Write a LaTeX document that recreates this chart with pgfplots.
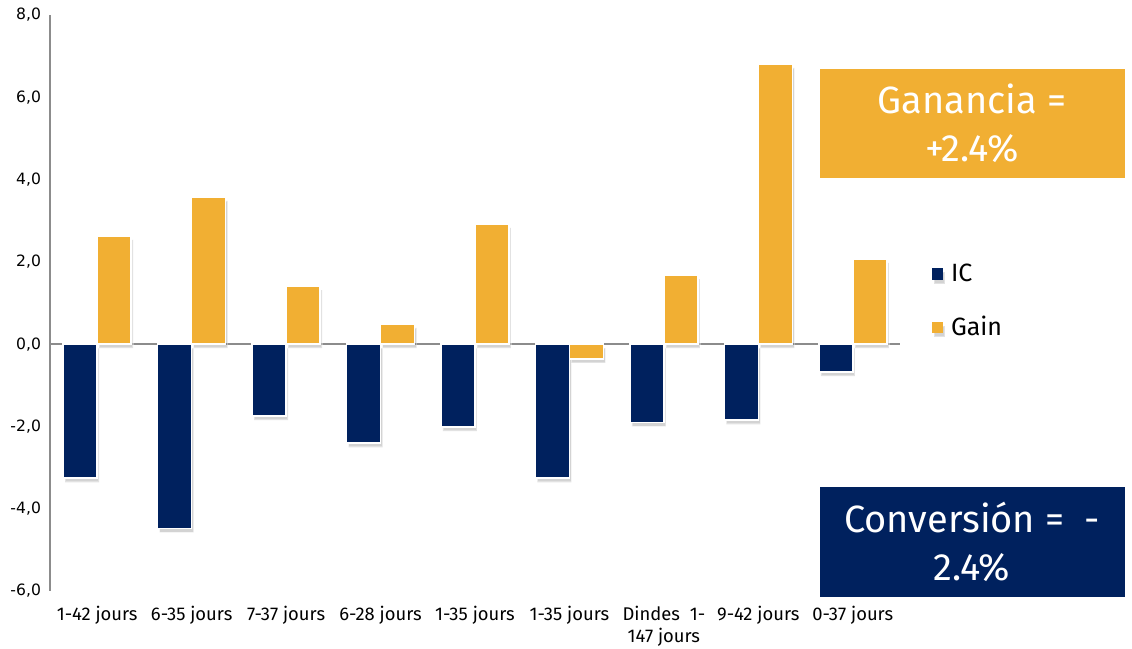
\documentclass[border=0pt]{standalone}
\usepackage{fontspec}
\setmainfont{Fira Sans}
\newfontfamily\dejavu{DejaVu Sans}
\usepackage{pgfplots}
\pgfplotsset{compat=1.18}
\usetikzlibrary{shadows}
\definecolor{navy}{HTML}{00215E}
\definecolor{gold}{HTML}{F1AF33}
\begin{document}
\begin{tikzpicture}
\useasboundingbox (-25pt,-29pt) rectangle (541pt,295.5pt);
\begin{axis}[
  at={(0,0)}, anchor=south west,
  scale only axis, width=425pt, height=288pt,
  ybar=0pt, bar width=17pt,
  xmin=-0.5, xmax=8.5, ymin=-6, ymax=8,
  xtick={0,...,8},
  xticklabels={1-42 jours,6-35 jours,7-37 jours,6-28 jours,1-35 jours,1-35 jours,{Dindes~~1-\\147 jours},9-42 jours,0-37 jours},
  xticklabel style={font=\fontsize{9.2}{11}\selectfont, align=center, yshift=-4pt},
  ytick={-6,-4,...,8},
  yticklabel style={font=\dejavu\fontsize{7.8}{9}\selectfont, xshift=-1pt, /pgf/number format/.cd, fixed, fixed zerofill, precision=1, use comma, assume math mode=true},
  axis x line*=bottom,
  x axis line style={draw=none},
  axis y line*=left,
  y axis line style={draw=gray!90, line width=1pt, -},
  major tick length=0pt,
  clip=false,
  legend style={at={(1.037,0.503)}, anchor=west, draw=none, fill=none, font=\fontsize{12.5}{14}\selectfont, row sep=12pt, inner sep=0pt, nodes={inner xsep=4pt}},
  legend cell align=left,
  legend image code/.code={\fill[#1, draw=none] (0pt,-2.8pt) rectangle (5.6pt,2.8pt);},
]
\draw[gray!90, line width=1pt] (axis cs:-0.5,0) -- (axis cs:8.5,0);
\addplot[fill=navy, draw=white, line width=0.8pt, drop shadow={opacity=0.35, shadow xshift=1pt, shadow yshift=-2pt}] coordinates {
 (0,-3.26) (1,-4.48) (2,-1.75) (3,-2.41) (4,-2.02) (5,-3.26) (6,-1.90) (7,-1.85) (8,-0.68)};
\addplot[fill=gold, draw=white, line width=0.8pt, drop shadow={opacity=0.35, shadow xshift=1pt, shadow yshift=-2pt}] coordinates {
 (0,2.63) (1,3.58) (2,1.41) (3,0.49) (4,2.92) (5,-0.36) (6,1.68) (7,6.81) (8,2.07)};
\legend{IC,Gain}
\end{axis}
\fill[gold] (385pt,206.5pt) rectangle (537.5pt,261pt);
\node[white, font=\fontsize{19}{24}\selectfont, align=center] at (461pt,233.75pt) {Ganancia =\\+2.4\%};
\fill[navy] (385pt,-3pt) rectangle (537.5pt,52pt);
\node[white, font=\fontsize{19}{24}\selectfont, align=center] at (461pt,24.5pt) {Conversión = ~-\\2.4\%};
\end{tikzpicture}
\end{document}
